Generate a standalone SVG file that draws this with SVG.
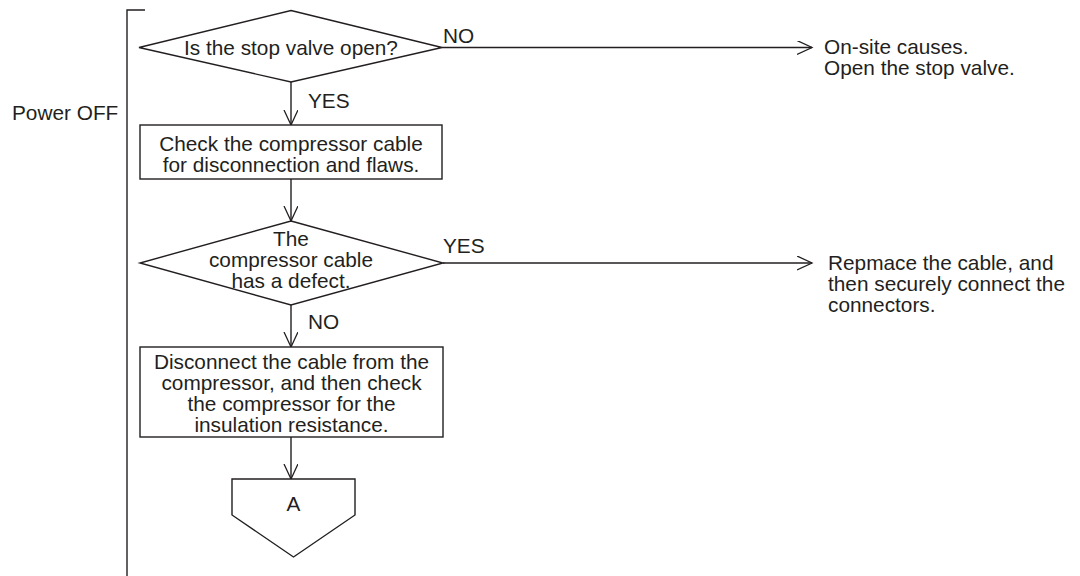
<svg xmlns="http://www.w3.org/2000/svg" width="1080" height="576" viewBox="0 0 1080 576">
<defs>
<style>
.shape{fill:#fff;stroke:#231f20;stroke-width:1.4}
.line{fill:none;stroke:#231f20;stroke-width:1.4}
text{font-family:"Liberation Sans",Arial,Helvetica,sans-serif;font-size:20.8px;fill:#231f20}
.c{text-anchor:middle}
</style>
<marker id="ah" markerWidth="18" markerHeight="16" refX="15" refY="7" orient="auto" markerUnits="userSpaceOnUse">
<path d="M0,0 L15,7 L0,14" fill="none" stroke="#231f20" stroke-width="1.3"/>
</marker>
</defs>
<rect width="1080" height="576" fill="#fff"/>

<g id="bracket">
<path class="line" d="M145,10 L127,10 L127,576"/>
<text x="12" y="120">Power OFF</text>
</g>

<g id="connectors">
<line class="line" x1="291" y1="82" x2="291" y2="125" marker-end="url(#ah)"/>
<line class="line" x1="442" y1="47.5" x2="812" y2="47.5" marker-end="url(#ah)"/>
<line class="line" x1="291" y1="179" x2="291" y2="221" marker-end="url(#ah)"/>
<line class="line" x1="443" y1="263" x2="812" y2="263" marker-end="url(#ah)"/>
<line class="line" x1="291" y1="305" x2="291" y2="347" marker-end="url(#ah)"/>
<line class="line" x1="291" y1="437" x2="291" y2="479" marker-end="url(#ah)"/>
<text x="443" y="43">NO</text>
<text x="308" y="108">YES</text>
<text x="443" y="253">YES</text>
<text x="308" y="329">NO</text>
</g>

<g id="q1">
<polygon class="shape" points="291,10.5 442,47.5 291,82 139,47.5"/>
<text class="c" x="291" y="55">Is the stop valve open?</text>
</g>

<g id="check">
<rect class="shape" x="140" y="125" width="302" height="54"/>
<text class="c" x="291" y="151">Check the compressor cable</text>
<text class="c" x="291" y="171.5">for disconnection and flaws.</text>
</g>

<g id="q2">
<polygon class="shape" points="291,221 443,263 291,305 140,263"/>
<text class="c" x="291" y="246">The</text>
<text class="c" x="291" y="267">compressor cable</text>
<text class="c" x="291" y="288">has a defect.</text>
</g>

<g id="disconnect">
<rect class="shape" x="140" y="347" width="303" height="90"/>
<text class="c" x="291.5" y="369">Disconnect the cable from the</text>
<text class="c" x="291.5" y="390">compressor, and then check</text>
<text class="c" x="291.5" y="411">the compressor for the</text>
<text class="c" x="291.5" y="432">insulation resistance.</text>
</g>

<g id="A">
<polygon class="shape" points="232,479 355,479 355,515 293.5,557 232,515"/>
<text class="c" x="293.5" y="511">A</text>
</g>

<g id="onsite">
<text x="824" y="54">On-site causes.</text>
<text x="824" y="75">Open the stop valve.</text>
</g>

<g id="replace">
<text x="828" y="270">Repmace the cable, and</text>
<text x="828" y="291">then securely connect the</text>
<text x="828" y="312">connectors.</text>
</g>
</svg>
